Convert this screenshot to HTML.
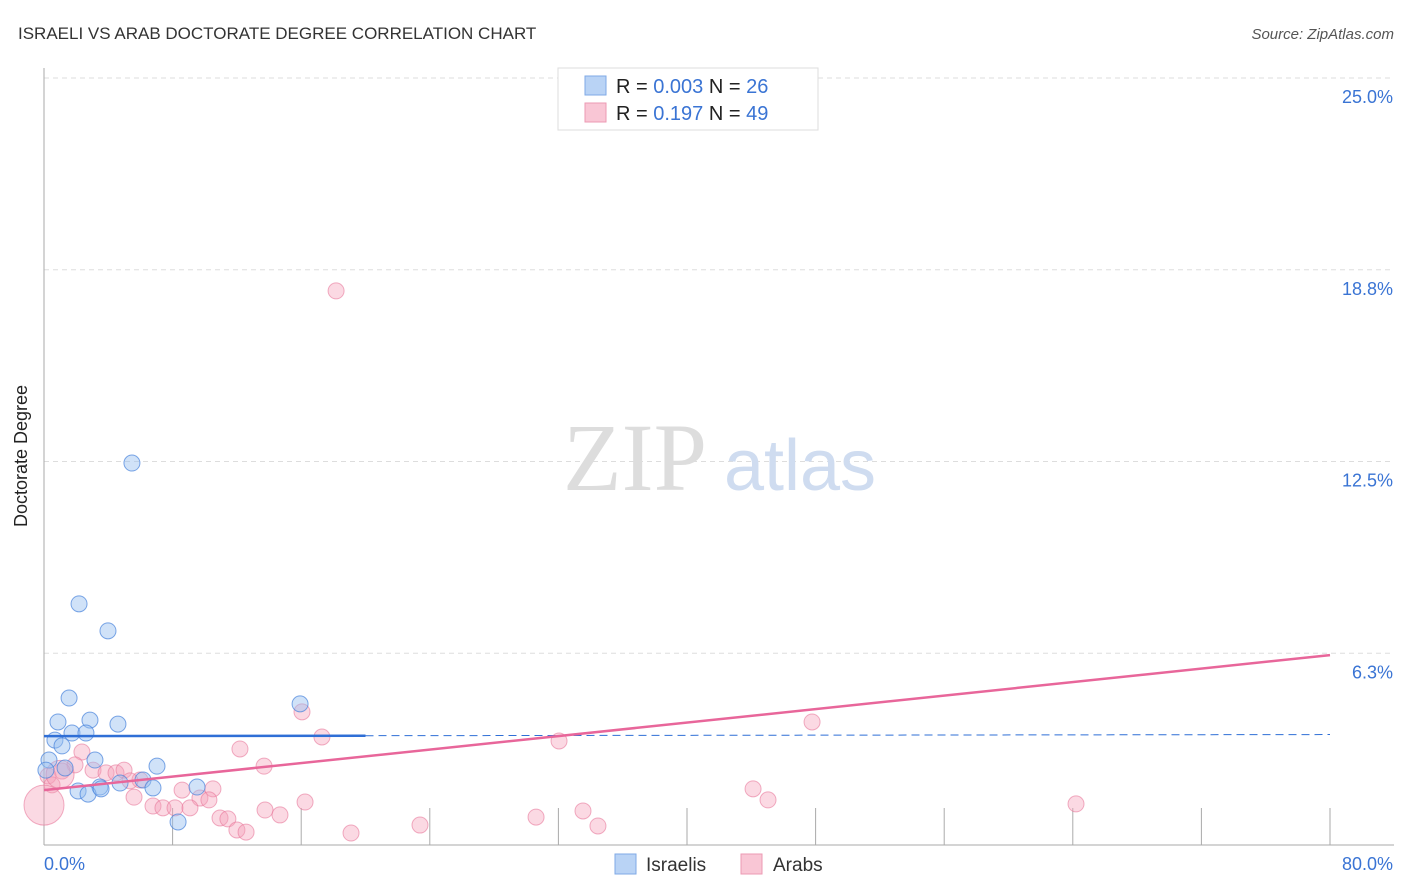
<!DOCTYPE html>
<html><head><meta charset="utf-8"><style>
body{margin:0;background:#fff;font-family:"Liberation Sans",sans-serif}
svg{display:block}
</style></head><body>
<svg width="1406" height="892" xmlns="http://www.w3.org/2000/svg">
<text x="18" y="39" font-size="17" fill="#333">ISRAELI VS ARAB DOCTORATE DEGREE CORRELATION CHART</text>
<text x="1394" y="39" font-size="15" fill="#555" font-style="italic" text-anchor="end">Source: ZipAtlas.com</text>
<text x="27" y="456" font-size="18" fill="#222" transform="rotate(-90 27 456)" text-anchor="middle">Doctorate Degree</text>
<g id="grid"></g>
<g id="wm"><text x="635" y="490" font-size="96" fill="#ddd" font-family="Liberation Serif,serif" text-anchor="middle">ZIP</text><text x="800" y="490" font-size="72" fill="#cfdcf0" text-anchor="middle">atlas</text></g>
<g id="pts"></g>
<g id="lines"></g>
<g>
<rect x="558" y="68" width="260" height="62" fill="#fff" stroke="#ddd"/>
<rect x="585" y="76" width="21" height="19" fill="#b9d3f5" stroke="#7fa9e6"/>
<rect x="585" y="103" width="21" height="19" fill="#f9c6d5" stroke="#ec9ab3"/>
<text x="616" y="93" font-size="20" fill="#222">R = <tspan fill="#3a74d4">0.003</tspan>   N = <tspan fill="#3a74d4">26</tspan></text>
<text x="616" y="120" font-size="20" fill="#222">R =  <tspan fill="#3a74d4">0.197</tspan>   N = <tspan fill="#3a74d4">49</tspan></text>
</g>
<g>
<rect x="615" y="854" width="21" height="20" fill="#b9d3f5" stroke="#7fa9e6"/>
<text x="646" y="871" font-size="19" fill="#333">Israelis</text>
<rect x="741" y="854" width="21" height="20" fill="#f9c6d5" stroke="#ec9ab3"/>
<text x="773" y="871" font-size="19" fill="#333">Arabs</text>
</g>
</svg>
<script>
const yTicks=[25,18.75,12.5,6.25];
const yTickLabels=["25.0%","18.8%","12.5%","6.3%"];
const xTicks=[0,8,16,24,32,40,48,56,64,72,80];
const blueX=[5.47,2.18,3.98,1.56,15.93,0.87,2.86,4.6,1.74,2.61,0.68,1.12,0.31,3.17,7.03,0.12,1.31,6.16,4.73,3.48,6.78,9.52,2.12,2.74,3.55,8.34];
const blueY=[12.45,7.86,6.98,4.79,4.6,4.01,4.07,3.94,3.65,3.65,3.42,3.23,2.77,2.77,2.57,2.44,2.51,2.12,2.02,1.89,1.86,1.89,1.76,1.66,1.83,0.75];
const pinkX=[18.17,38.0,16.05,47.78,17.29,32.04,12.19,2.36,13.69,1.93,1.12,3.05,3.86,4.48,4.98,5.97,5.35,0.25,0.5,1.0,0,44.11,45.04,64.2,8.59,9.7,10.51,10.26,5.6,6.78,7.4,8.15,9.08,16.24,13.75,14.68,10.95,11.44,12.0,12.57,19.1,23.39,30.61,33.53,34.46];
const pinkY=[18.06,24.05,4.34,4.01,3.52,3.39,3.13,3.03,2.57,2.61,2.41,2.44,2.35,2.35,2.44,2.12,2.09,2.25,1.96,2.3,1.3,1.83,1.47,1.34,1.79,1.53,1.83,1.47,1.56,1.27,1.21,1.21,1.21,1.4,1.14,0.98,0.88,0.85,0.49,0.42,0.39,0.65,0.91,1.11,0.62];
const pinkR=[8,8,8,8,8,8,8,8,8,8,8,8,8,8,8,8,8,8,8,14,20,8,8,8,8,8,8,8,8,8,8,8,8,8,8,8,8,8,8,8,8,8,8,8,8];
const blueFit=[3.55,3.6];
const pinkFit=[1.79,6.19];
const NS="http://www.w3.org/2000/svg";
const X0=44,X1=1330,YB=845,YT=78;
const sx=v=>X0+v/80*(X1-X0);
const sy=v=>YB-v/25*(YB-YT);
function mk(t,a,p){const e=document.createElementNS(NS,t);for(const k in a)e.setAttribute(k,a[k]);p.appendChild(e);return e;}
const g=document.getElementById('grid');
yTicks.forEach((v,i)=>{
 const l=mk('line',{x1:X0,x2:1394,y1:sy(v),y2:sy(v),stroke:'#ddd','stroke-dasharray':'5,4'},g);
 
 
 const t=mk('text',{x:1393,y:sy(v)+25,'font-size':18,fill:'#3a74d4','text-anchor':'end'},g);
 t.textContent=yTickLabels[i];
 
 
});
const ax=mk('line',{x1:X0,x2:1394,y1:YB,y2:YB,stroke:'#aaa'},g);


const ay=mk('line',{x1:X0,x2:X0,y1:68,y2:YB,stroke:'#aaa'},g);


xTicks.forEach(v=>{
 const l=mk('line',{x1:sx(v),x2:sx(v),y1:808,y2:YB,stroke:'#aaa'},g);
 
 
});
const t0=mk('text',{x:44,y:870,'font-size':18,fill:'#3a74d4'},g);t0.textContent='0.0%';


const t1=mk('text',{x:1393,y:870,'font-size':18,fill:'#3a74d4','text-anchor':'end'},g);t1.textContent='80.0%';


const P=document.getElementById('pts');
pinkX.forEach((v,i)=>{
 const c=mk('circle',{cx:sx(v),cy:sy(pinkY[i]),r:pinkR[i],fill:'rgba(244,160,185,0.4)',stroke:'rgba(232,120,155,0.6)','stroke-width':1},P);
 
 
});
blueX.forEach((v,i)=>{
 const c=mk('circle',{cx:sx(v),cy:sy(blueY[i]),r:8,fill:'rgba(150,190,240,0.45)',stroke:'rgba(70,130,220,0.7)','stroke-width':1},P);
 
 
});
const L=document.getElementById('lines');
const bs=mk('line',{x1:sx(0),y1:sy(blueFit[0]),x2:sx(20),y2:sy(blueFit[0]+(blueFit[1]-blueFit[0])*0.25),stroke:'#2f6fd6','stroke-width':2.5},L);


const bd=mk('line',{x1:sx(20),y1:sy(blueFit[0]+(blueFit[1]-blueFit[0])*0.25),x2:sx(80),y2:sy(blueFit[1]),stroke:'#2f6fd6','stroke-width':1,'stroke-dasharray':'8,5'},L);


const pl=mk('line',{x1:sx(0),y1:sy(pinkFit[0]),x2:sx(80),y2:sy(pinkFit[1]),stroke:'#e8669a','stroke-width':2.5},L);


</script>
</body></html>
